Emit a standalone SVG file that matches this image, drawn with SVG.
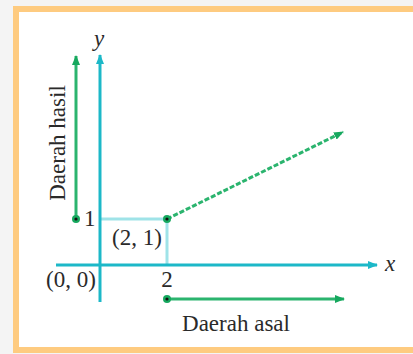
<svg xmlns="http://www.w3.org/2000/svg" width="413" height="354" viewBox="0 0 413 354">
<defs>
<style>
.t{font-family:"Liberation Serif","Times New Roman",serif;font-size:23px;fill:#2a2a2a}
.ti{font-family:"Liberation Serif","Times New Roman",serif;font-size:23px;font-style:italic;fill:#2a2a2a}
.ax{stroke:#1cb8c8;stroke-width:3;fill:none}
.gr{stroke:#2bb46e;stroke-width:3;fill:none}
.lc{stroke:#9fe3e8;stroke-width:3;fill:none}
</style>
<marker id="ac" markerWidth="10" markerHeight="8" refX="9" refY="4" orient="auto" markerUnits="userSpaceOnUse"><path d="M0,0 L10,4 L0,8 Z" fill="#1cb8c8"/></marker>
<marker id="ag" markerWidth="10" markerHeight="8" refX="9" refY="4" orient="auto" markerUnits="userSpaceOnUse"><path d="M0,0 L10,4 L0,8 Z" fill="#16a85e"/></marker>
</defs>
<rect width="413" height="354" fill="#f4f4f4"/>
<rect x="16" y="9" width="410" height="341" fill="#ffffff" stroke="#fecb80" stroke-width="6"/>
<g id="connectors">
<line class="lc" x1="101" y1="219" x2="167" y2="219"/>
<line class="lc" x1="167" y1="219" x2="167" y2="265"/>
<line class="ax" x1="56" y1="265" x2="377" y2="265" marker-end="url(#ac)"/>
<line class="ax" x1="100" y1="302" x2="100" y2="55" marker-end="url(#ac)"/>
<line class="gr" x1="76" y1="219" x2="76" y2="56" marker-end="url(#ag)"/>
<line class="gr" x1="167" y1="299" x2="344" y2="299" marker-end="url(#ag)"/>
<line class="gr" x1="167" y1="219" x2="343" y2="132" stroke-dasharray="5,2" marker-end="url(#ag)"/>
</g>
<g id="dot-y1"><circle cx="76" cy="219" r="4" fill="#16a85e"/><circle cx="76" cy="219" r="1.6" fill="#111"/></g>
<g id="dot-21"><circle cx="167" cy="219" r="4" fill="#16a85e"/><circle cx="167" cy="219" r="1.6" fill="#111"/></g>
<g id="dot-x2"><circle cx="167" cy="299" r="4" fill="#16a85e"/><circle cx="167" cy="299" r="1.6" fill="#111"/></g>
<g id="labels">
<text class="ti" x="99" y="46" text-anchor="middle">y</text>
<text class="ti" x="390" y="271" text-anchor="middle">x</text>
<text class="t" x="84" y="226">1</text>
<text class="t" x="137" y="245" text-anchor="middle">(2, 1)</text>
<text class="t" x="71" y="287" text-anchor="middle">(0, 0)</text>
<text class="t" x="167" y="287" text-anchor="middle">2</text>
<text class="t" x="236" y="331" text-anchor="middle">Daerah asal</text>
<text class="t" transform="translate(65,143) rotate(-90)" text-anchor="middle">Daerah hasil</text>
</g>
</svg>
